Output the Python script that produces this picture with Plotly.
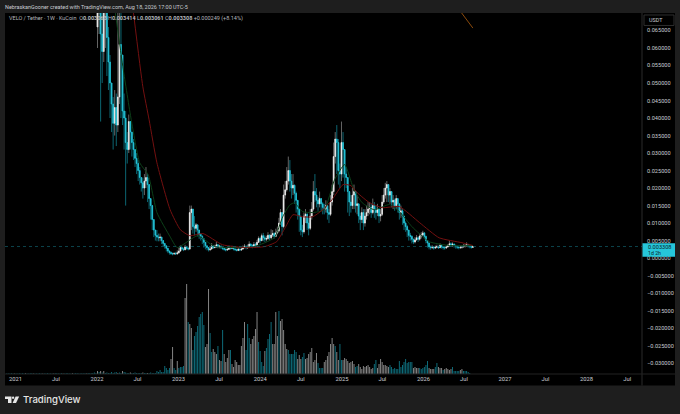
import datetime as dt
import plotly.graph_objects as go

# Weekly candle data, in thousandths of a USDT, starting 2022-01-03
close_k = [
    70,78,64,59,74,82,63,56,50,44,
    38.5,43,38,46,61,58,42,40,33,31,
    39,36,33,31,28.5,27,25,23,21.5,20,
    22,23,21,17,15,11,8,6.5,6,5.8,
    6,5,4.2,3.5,2.8,2,1.6,1.3,1.2,1.3,
    1.2,1.5,2,3,2.6,2.4,3.2,2.8,2.6,13,
    14,9,8.5,9.5,8,6.8,6.2,5.5,4.5,3.5,
    3,2.4,2.6,3.5,3,3.2,3.8,3.2,3.4,3,
    2.8,2.5,2.3,2.5,3,2.8,3,2.6,2.4,2.2,
    2.5,2.3,2.6,3,3.4,2.9,3.2,4,3.6,3.3,
    3.9,3.5,4.5,5.6,5,6.4,5.8,5.4,5.6,6.5,
    5.8,6.6,7,6.2,7.2,7.8,10,13,9,18,
    19.5,22,25,22,20,20.8,18.5,16.5,14,12,
    8,7.5,12,12.5,10,8.5,12,14,19,18,
    16.5,15.5,17,15.5,14.5,14,15,13,12.5,16,
    19,29,34,33,25,24,33,31,24,23,
    19,16,15,18,19,15,15.5,12,11,13,
    10,12,13,14,14.5,13,15,14,13,14,
    12,12.5,16,18,20,21,18,19,16,16.5,
    15,17,15.5,13,13.5,12,10,9,8,6.5,
    6.2,5.4,4.6,5.2,5.8,5.4,6.3,6.6,7.2,6.2,
    5,4.3,3.2,3,3.2,2.9,3.1,3.3,3,3.6,
    3.2,3,2.9,3.2,3.5,4.1,3.8,4,3.6,3.4,
    3.1,3,3.1,3.2,3.5,3.6,3.9,3.5,3.3,3.06,
    3.308,
]
high_k = [
    90,95,85,75,88,95,80,66,58,50,
    46,48,47,76,75,72,50,47,42,36,
    41,39,36,34,31,30,28,26,23,23,
    24,26,24,20,17,14,11,8,8,7,
    7,6,5,4.2,3.5,2.8,2.2,1.9,1.6,1.7,
    1.8,2.2,3,3.6,3.3,3,3.8,3.5,3.1,15,
    15,11,12,10,9.5,8,7,6.5,5.5,4.4,
    3.6,3,3.4,4.3,3.7,3.8,4.6,3.9,3.8,3.6,
    3.2,3,2.8,3,3.5,3.2,3.5,3.1,2.8,2.7,
    2.9,2.8,3.1,3.6,4,3.6,3.9,4.8,4.2,4,
    4.6,4.4,5.2,6.2,6,7,7.2,6.5,6.4,7.4,
    6.8,8.2,8,7.4,8.4,9,11.5,14,13,21,
    22,26,29,28,24,24,21,19,16,14,
    12,9.5,13,14,13,11.5,14,16,22,24,
    20,17.5,19,17,16,15.5,16.5,15,14,18,
    21,33,36,38,34,27,39,36,28,26,
    23,19,18,20,21,19,18,14.5,13,14.5,
    14,14,15,16,16,15.5,17,16,15,15.5,
    14,14,18,20,21.5,22,21,20,18.5,18,
    17,18,17,15.5,15,14,12,10.5,9.5,8,
    7.2,6.5,5.5,6,6.6,6.2,7,7.4,7.8,7.4,
    6.4,5,4.4,3.6,3.7,3.4,3.6,3.8,3.6,4.2,
    3.8,3.4,3.4,3.6,4,5,4.5,4.5,4.2,3.9,
    3.5,3.4,3.5,3.6,4,4,4.5,4,3.7,3.5,
    3.414,
]
low_k = [
    60,64,39,50,56,60,52,48,40,36,
    31,35,32,36,44,40,38,31,15,27,
    30,31,29,28,26,24,22,21,19,17,
    18,20,16,14,11,8,6,5,4.8,4.8,
    4.8,4,3.4,2.7,1.9,1.4,1,0.9,0.8,0.9,
    0.9,1,1.3,1.8,2.2,2,2.2,2.4,2.2,2.4,
    8,7,6.5,7.5,6.2,5.5,5,4,3,2.5,
    2.2,1.9,2,2.4,2.6,2.8,3,2.8,2.8,2.6,
    2.3,2.1,1.9,2.1,2.3,2.4,2.5,2.2,2,1.9,
    2,2,2.1,2.4,2.8,2.5,2.7,3,3,2.8,
    3.2,3,3.3,4.4,4.2,4.8,4.8,4.6,4.8,5.2,
    5,5.4,6,5.6,6,6.8,7.4,9.5,6.5,8.5,
    17,19,21,19,17,18,15.5,13,11,7.5,
    6.5,6,7,10,8,6.5,8,11,13.5,16,
    14.5,13.5,14.5,13.5,12.5,12.5,13,11,10,12,
    15,18,27,24,21,20,22,23,19,20,
    13,12,13,14,14,13,12.5,10,8,10,
    8,9,11,12,12.5,11.5,12.5,11.5,11,12,
    10,10.5,12,15.5,17,16,16,15.5,14.5,14,
    13.5,14,13,11,11.5,9.5,8,7.5,6,5,
    5,4.2,4,4.2,5,4.6,5,5.6,6.2,5.4,
    4.2,3,2.5,2.4,2.6,2.4,2.6,2.8,2.6,2.8,
    2.7,2.4,2.4,2.6,3,3.2,3.2,3.2,3,2.7,
    2.6,2.5,2.6,2.7,3,3,3.2,3,2.8,2.7,
    3.061,
]
first_open_k = 66

# Weekly volume (relative units). Positive = up week, negative = down week.
vol_start = "2020-11-23"
vol_early = [
    -.6,-.5,-.6,-.7,-.5,.6,-.6,-.5,-.7,-.6,
    -.8,-.6,.7,-.5,-.6,-.7,-.8,.6,-.6,-.5,
    -.6,-.7,-.6,.5,-.6,-.5,-.7,-.6,-.5,-.6,
    .6,-.7,-.8,-.6,-.5,-.7,.6,-.6,-.8,-.7,
    -.6,-.5,.7,-.6,-.8,-.7,-.6,-.5,-.8,-.6,
    -.7,.6,-1,-.8,-.7,-1,
]
vol_main = [
    -1.5,-1,3,-2,3,-1.5,3,-1,-1.5,-1,
    -1,-2,-1,-1.5,-2,1,-1.5,-1,3,-2,
    -1.5,-1,-1,1.5,-1,-1,-1.5,-1,-1,-1,
    -1,1.5,-1,-1,1,-1,-1.5,-1,-1,-1,
    -3,-2,-4,-2,-2,-8,-6,-4,-6,15,
    27,-6,-4,13,-6,-7,-7,-8,76,90,
    -52,50,46,-24,-38,-42,-48,-57,-60,-62,
    -49,27,30,85,-41,-22,25,22,20,-28,
    14,13,-44,20,12,16,24,-24,10,7,
    14,12,9,9,28,36,52,-24,-50,-36,
    30,35,38,45,62,-32,-23,-12,-8,23,
    -26,-35,-40,-52,30,30,62,38,-63,53,
    55,44,30,25,-24,-20,-20,-20,-24,-22,
    15,19,15,-17,-21,15,16,20,22,26,
    12,14,21,-11,-6,-6,-6,12,14,18,
    22,30,36,30,-28,22,14,-30,-14,14,
    16,15,13,11,12,13,10,-7,-8,10,
    7,5,8,7,8,9,7,5,6,-10,
    -14,6,10,15,12,9,9,8,7,-9,
    -7,-5,-6,-5,-5,-13,-7,-9,-12,-15,
    -11,-12,-12,-12,6,7,6,6,-6,-5,
    -6,-7,-9,-13,6,5,5,5,-7,-11,
    7,6,6,-4,5,6,5,4,5,-7,
    -3,-3,-3,-3,4,5,-3,-3,-3,-2,
    -1,
]

# Moving averages, sampled as (weeks after the first candle, thousandths)
red_week = [23,29,33,38,46.5,53,59,67.5,80,95.5,107,114.6,120,125,131,137.6,144,150,157,162,166,174,182,193,206,218.5,233,240]
red_k = [70,48.9,39.5,27.2,13.8,8.1,6.4,7,3.8,3,3.3,4.7,8.7,12.4,11.8,11.8,13.8,16.7,21,20.7,18.7,15.8,14.4,14.7,10.1,5.8,4.4,3.6]
green_week = [11.5,16.5,21.6,27,32.5,38,46.5,51,64,75,100,113,118.5,123,126,131,137.6,145,151.6,158,164,169.4,177,186.6,193,201,212,225,240]
green_k = [70,54,39.5,27.2,23.8,13,6.1,3,6.4,3.3,3.3,5.8,11.8,15.2,15.8,13.3,13,13.8,22.4,26.7,19.5,15.8,13.8,15.3,13.3,9,4.7,3.6,3.6]
orange_week = [232,240]
orange_k = [70.5,65.7]

price_ticks = [0.065,0.06,0.055,0.05,0.045,0.04,0.035,0.03,0.025,0.02,0.015,0.01,0.005,0,
               -0.005,-0.01,-0.015,-0.02,-0.025,-0.03]
price_tick_text = ["0.065000","0.060000","0.055000","0.050000","0.045000","0.040000","0.035000",
                   "0.030000","0.025000","0.020000","0.015000","0.010000","0.005000","0.000000",
                   "−0.005000","−0.010000","−0.015000","−0.020000","−0.025000","−0.030000"]
time_ticks = ["2021-01-01","2021-07-01","2022-01-01","2022-07-01","2023-01-01","2023-07-01",
              "2024-01-01","2024-07-01","2025-01-01","2025-07-01","2026-01-01","2026-07-01",
              "2027-01-01","2027-07-01","2028-01-01","2028-07-01"]
time_tick_text = ["2021","Jul","2022","Jul","2023","Jul","2024","Jul","2025","Jul","2026","Jul",
                  "2027","Jul","2028","Jul"]

header = "NebraskanGooner created with TradingView.com, Aug 18, 2026 17:00 UTC-5"
legend = ("VELO / Tether · 1W · KuCoin  O<b>0.003063</b> H<b>0.003414</b> L<b>0.003061</b> "
          "C<b>0.003308</b> +0.000249 (+8.14%)")

# ---------------------------------------------------------------------
W, H = 680, 414
L, R, T, B = 5, 642, 13, 374.5
BG, BLACK = "#1e1e1e", "#000000"
TXT = "#c9ccd2"
FONT = "Roboto"
UP_BODY, DOWN_BODY = "#f2f2f2", "#26c6da"
UP_WICK, DOWN_WICK = "#7d7d7d", "#0f7f8e"
UP_VOL, DOWN_VOL = "rgba(138,138,138,0.99)", "rgba(14,111,125,0.99)"

start = dt.date(2022, 1, 3)
dates = [start + dt.timedelta(weeks=i) for i in range(len(close_k))]
closes = [c / 1000 for c in close_k]
highs = [c / 1000 for c in high_k]
lows = [c / 1000 for c in low_k]
opens = [first_open_k / 1000] + closes[:-1]
body_hi = [max(o, c) for o, c in zip(opens, closes)]
body_lo = [min(o, c) for o, c in zip(opens, closes)]

vols = vol_early + vol_main
v0 = dt.date.fromisoformat(vol_start)
vol_dates = [v0 + dt.timedelta(weeks=i) for i in range(len(vols))]

def week_dates(weeks):
    return [start + dt.timedelta(days=7 * w) for w in weeks]

def X(px):
    return (px - L) / (R - L)

def Y(py):
    return (B - py) / (B - T)

fig = go.Figure()

fig.add_trace(go.Bar(
    x=vol_dates, y=[abs(v) for v in vols], yaxis="y2",
    marker=dict(color=[UP_VOL if v > 0 else DOWN_VOL for v in vols], line_width=0),
    width=7 * 86400000 * 0.62, hoverinfo="skip", showlegend=False))

for wk, val, col in [(green_week, green_k, "#0c4019"), (red_week, red_k, "#741010"),
                     (orange_week, orange_k, "#8a4a0c")]:
    fig.add_trace(go.Scatter(x=week_dates(wk), y=[v / 1000 for v in val], mode="lines",
                             line=dict(color=col, width=1, shape="spline", smoothing=0.5),
                             hoverinfo="skip", showlegend=False))

fig.add_trace(go.Candlestick(
    x=dates, open=opens, high=highs, low=lows, close=closes, whiskerwidth=0,
    increasing=dict(line=dict(color=UP_WICK, width=0.8), fillcolor=UP_WICK),
    decreasing=dict(line=dict(color=DOWN_WICK, width=0.8), fillcolor=DOWN_WICK),
    hoverinfo="skip", showlegend=False))
fig.add_trace(go.Candlestick(
    x=dates, open=opens, high=body_hi, low=body_lo, close=closes, whiskerwidth=0,
    increasing=dict(line=dict(color=UP_BODY, width=0.6), fillcolor=UP_BODY),
    decreasing=dict(line=dict(color=DOWN_BODY, width=0.6), fillcolor=DOWN_BODY),
    hoverinfo="skip", showlegend=False))

def txt(x, y, s, size, color=TXT, anchor="left", **kw):
    return dict(xref="paper", yref="paper", x=X(x), y=Y(y), text=s, showarrow=False,
                xanchor=anchor, yanchor="middle", align="left",
                font=dict(family=kw.pop("family", FONT), size=size, color=color, **kw))

logo_t = f"M {X(5)} {Y(397)} L {X(11.5)} {Y(397)} L {X(11.5)} {Y(403.5)} L {X(8)} {Y(403.5)} L {X(8)} {Y(399.6)} L {X(5)} {Y(399.6)} Z"
logo_v = f"M {X(15.6)} {Y(397)} L {X(19.2)} {Y(397)} L {X(16)} {Y(403.5)} L {X(12.6)} {Y(403.5)} Z"

shapes = [
    dict(type="rect", xref="paper", yref="paper", x0=X(5), x1=X(675), y0=Y(13), y1=Y(386),
         fillcolor=BLACK, line_width=0, layer="below"),
    dict(type="line", xref="paper", yref="paper", x0=X(642), x1=X(642), y0=Y(13), y1=Y(386),
         line=dict(color="#2b2b2b", width=1)),
    dict(type="line", xref="paper", yref="paper", x0=X(5), x1=X(675), y0=Y(374.5), y1=Y(374.5),
         line=dict(color="#222222", width=1)),
    dict(type="line", xref="paper", yref="y", x0=0, x1=1, y0=closes[-1], y1=closes[-1],
         line=dict(color="#11606c", width=0.7, dash="dot")),
    dict(type="rect", xref="paper", yref="paper", x0=X(644), x1=X(674), y0=Y(15), y1=Y(25.5),
         fillcolor=BLACK, line=dict(color="#2e2e2e", width=1)),
    dict(type="rect", xref="paper", yref="paper", x0=X(642.5), x1=X(675), y0=Y(243.5), y1=Y(257),
         fillcolor=DOWN_BODY, line_width=0),
    dict(type="path", xref="paper", yref="paper", path=logo_t, fillcolor="#e6e6e6", line_width=0),
    dict(type="path", xref="paper", yref="paper", path=logo_v, fillcolor="#e6e6e6", line_width=0),
    dict(type="circle", xref="paper", yref="paper", x0=X(11.9), x1=X(14.3), y0=Y(397), y1=Y(399.4),
         fillcolor="#e6e6e6", line_width=0),
]

annotations = [
    txt(2.5, 6.5, header, 5.45),
    txt(6.5, 19, legend, 5.5, color="#b4b7bd"),
    txt(646.5, 20.3, "USDT", 5.4),
    txt(646, 247, "0.003308", 5.6, color="#08252a"),
    txt(646, 253.3, "1d 2h", 5.2, color="#08252a"),
    txt(21, 400.5, "TradingView", 9.6, color="#e6e6e6", family="Inter", weight=500),
]

fig.update_layout(
    width=W, height=H, autosize=False,
    margin=dict(l=L, r=W - R, t=T, b=H - B, pad=0),
    paper_bgcolor=BG, plot_bgcolor=BLACK, barmode="overlay", showlegend=False,
    font=dict(family=FONT, color=TXT),
    xaxis=dict(type="date", range=["2020-11-15", "2028-09-05"], rangeslider=dict(visible=False),
               tickmode="array", tickvals=time_ticks, ticktext=time_tick_text,
               tickfont=dict(size=5.8, color=TXT), ticks="", showgrid=False, zeroline=False, showline=False),
    yaxis=dict(side="right", range=[-0.0331, 0.07], tickmode="array", tickvals=price_ticks,
               ticktext=price_tick_text, tickfont=dict(size=5.6, color=TXT), ticks="outside", ticklen=3,
               tickcolor="rgba(0,0,0,0)", showgrid=False, zeroline=False, showline=False),
    yaxis2=dict(overlaying="y", range=[0, 361.5], visible=False),
    shapes=shapes, annotations=annotations,
)

fig.write_html("out.html", config=dict(displayModeBar=False),
               post_script="document.body.style.margin='0';document.body.style.background='#1e1e1e';document.body.style.overflow='hidden';")
